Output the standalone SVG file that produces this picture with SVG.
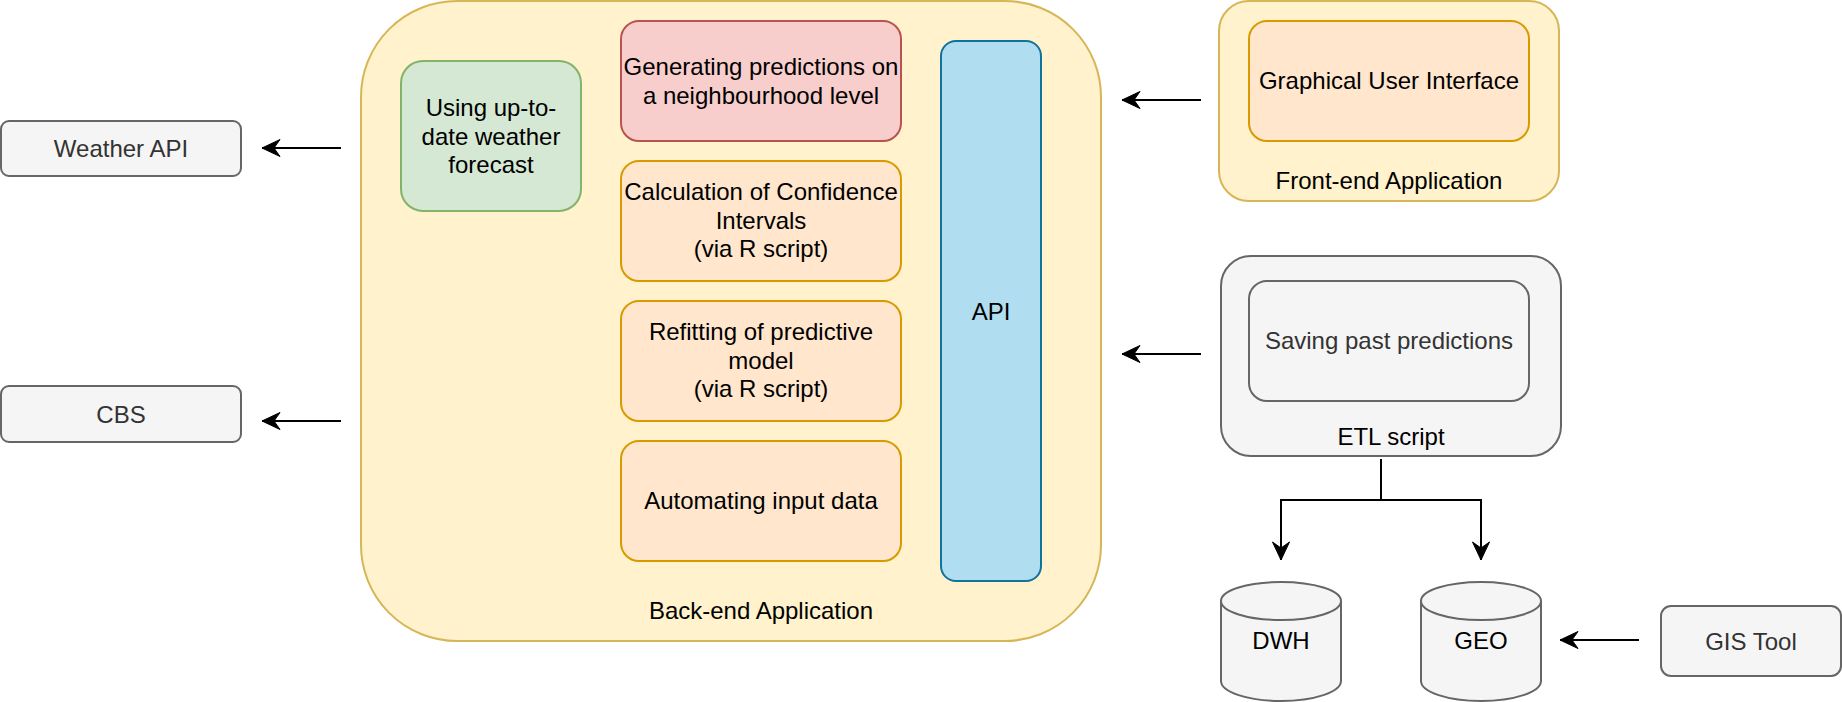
<svg xmlns="http://www.w3.org/2000/svg" width="1842" height="702" viewBox="0 0 1842 702">
  <style>
    text { font-family: "Liberation Sans", Arial, Helvetica, sans-serif; font-size: 24px; text-anchor: middle; dominant-baseline: central; fill: #000; }
    .muted { fill: #333333; }
    .yellow { fill: #fff2cc; stroke: #d6b656; stroke-width: 2; }
    .green { fill: #d5e8d4; stroke: #82b366; stroke-width: 2; }
    .red { fill: #f8cecc; stroke: #b85450; stroke-width: 2; }
    .orange { fill: #ffe6cc; stroke: #d79b00; stroke-width: 2; }
    .blue { fill: #b1ddf0; stroke: #10739e; stroke-width: 2; }
    .gray { fill: #f5f5f5; stroke: #666666; stroke-width: 2; }
    .edge { fill: none; stroke: #000; stroke-width: 2; }
  </style>
  <defs>
    <marker id="arrow" markerUnits="userSpaceOnUse" markerWidth="20" markerHeight="20" refX="18" refY="9" orient="auto" overflow="visible">
      <path d="M18,9 L0,0.5 L6,9 L0,17.5 Z" fill="#000" stroke="#000" stroke-width="1" stroke-linejoin="miter"/>
    </marker>
  </defs>

  <!-- external sources on the left -->
  <g id="weather-api">
    <rect class="gray" x="1" y="121" width="240" height="55" rx="8" ry="8"/>
    <text class="muted" x="121" y="148.5">Weather API</text>
  </g>
  <g id="cbs">
    <rect class="gray" x="1" y="386" width="240" height="56" rx="8" ry="8"/>
    <text class="muted" x="121" y="414">CBS</text>
  </g>

  <!-- back-end container and its parts -->
  <g id="backend">
    <rect class="yellow" x="361" y="1" width="740" height="640" rx="96" ry="96"/>
    <text x="761" y="610">Back-end Application</text>
  </g>
  <g id="weather-forecast">
    <rect class="green" x="401" y="61" width="180" height="150" rx="22" ry="22"/>
    <text x="491" y="107.2">Using up-to-</text>
    <text x="491" y="136">date weather</text>
    <text x="491" y="164.8">forecast</text>
  </g>
  <g id="neighbourhood-predictions">
    <rect class="red" x="621" y="21" width="280" height="120" rx="18" ry="18"/>
    <text x="761" y="66.6">Generating predictions on</text>
    <text x="761" y="95.4">a neighbourhood level</text>
  </g>
  <g id="confidence-intervals">
    <rect class="orange" x="621" y="161" width="280" height="120" rx="18" ry="18"/>
    <text x="761" y="191.2">Calculation of Confidence</text>
    <text x="761" y="220">Intervals</text>
    <text x="761" y="248.8">(via R script)</text>
  </g>
  <g id="refitting">
    <rect class="orange" x="621" y="301" width="280" height="120" rx="18" ry="18"/>
    <text x="761" y="331.2">Refitting of predictive</text>
    <text x="761" y="360">model</text>
    <text x="761" y="388.8">(via R script)</text>
  </g>
  <g id="automating-input">
    <rect class="orange" x="621" y="441" width="280" height="120" rx="18" ry="18"/>
    <text x="761" y="500">Automating input data</text>
  </g>
  <g id="api">
    <rect class="blue" x="941" y="41" width="100" height="540" rx="15" ry="15"/>
    <text x="991" y="311">API</text>
  </g>

  <!-- front-end -->
  <g id="frontend">
    <rect class="yellow" x="1219" y="1" width="340" height="200" rx="30" ry="30"/>
    <text x="1389" y="180">Front-end Application</text>
  </g>
  <g id="gui">
    <rect class="orange" x="1249" y="21" width="280" height="120" rx="18" ry="18"/>
    <text x="1389" y="80">Graphical User Interface</text>
  </g>

  <!-- ETL -->
  <g id="etl">
    <rect class="gray" x="1221" y="256" width="340" height="200" rx="30" ry="30"/>
    <text x="1391" y="436">ETL script</text>
  </g>
  <g id="saving-predictions">
    <rect class="gray" x="1249" y="281" width="280" height="120" rx="18" ry="18"/>
    <text class="muted" x="1389" y="340">Saving past predictions</text>
  </g>

  <!-- data stores -->
  <g id="dwh">
    <path class="gray" d="M1221,601 A60,19 0 0 1 1341,601 V681 A60,20 0 0 1 1221,681 Z"/>
    <path class="gray" fill="none" d="M1221,601 A60,19 0 0 0 1341,601"/>
    <text x="1281" y="640">DWH</text>
  </g>
  <g id="geo">
    <path class="gray" d="M1421,601 A60,19 0 0 1 1541,601 V681 A60,20 0 0 1 1421,681 Z"/>
    <path class="gray" fill="none" d="M1421,601 A60,19 0 0 0 1541,601"/>
    <text x="1481" y="640">GEO</text>
  </g>
  <g id="gis-tool">
    <rect class="gray" x="1661" y="606" width="180" height="70" rx="10" ry="10"/>
    <text class="muted" x="1751" y="641">GIS Tool</text>
  </g>

  <!-- connectors -->
  <g id="connectors">
    <path class="edge" d="M341,148 H262" marker-end="url(#arrow)"/>
    <path class="edge" d="M341,421 H262" marker-end="url(#arrow)"/>
    <path class="edge" d="M1201,100 H1122" marker-end="url(#arrow)"/>
    <path class="edge" d="M1201,354 H1122" marker-end="url(#arrow)"/>
    <path class="edge" d="M1381,459 V500 H1281 V560" marker-end="url(#arrow)"/>
    <path class="edge" d="M1381,459 V500 H1481 V560" marker-end="url(#arrow)"/>
    <path class="edge" d="M1639,640 H1560" marker-end="url(#arrow)"/>
  </g>
</svg>
